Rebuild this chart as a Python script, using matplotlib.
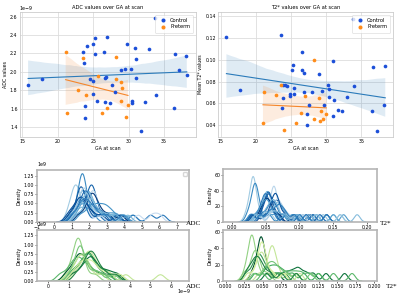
import numpy as np
import matplotlib
matplotlib.use("Agg")
import matplotlib.pyplot as plt
from matplotlib.ticker import FuncFormatter
import seaborn as sns

# ---------------- scatter data ----------------
control_ga_adc = [15.8, 17.8, 23.6, 23.7, 24.1, 23.9, 23.9, 25.2, 25.0, 25.3, 27.0, 26.5, 24.5, 25.0, 24.9,
                  25.5, 26.6, 27.4, 26.8, 26.7, 27.6, 28.1, 28.9, 29.5, 29.8, 30.3, 30.4, 30.5, 30.9, 31.0,
                  31.0, 31.7, 32.3, 32.9, 33.9, 33.7, 36.4, 36.5, 37.1, 38.1, 38.2]
control_adc = [1.855, 1.92, 2.218, 2.10, 2.285, 1.63, 1.50, 2.365, 2.307, 2.19, 2.38, 2.22, 1.924, 1.895, 1.76,
               1.684, 1.67, 1.66, 1.945, 1.93, 1.855, 1.78, 2.015, 2.03, 2.30, 2.03, 1.687, 1.66, 2.255, 2.135,
               1.927, 1.35, 1.67, 2.25, 1.75, 2.585, 1.61, 2.19, 2.02, 2.167, 1.967]
preterm_ga_adc = [21.1, 21.3, 22.8, 23.6, 24.0, 25.7, 26.2, 26.9, 28.2, 28.2, 28.9, 28.9, 29.1, 29.6, 29.9]
preterm_adc = [2.21, 1.555, 1.80, 2.145, 1.745, 1.95, 1.555, 1.61, 1.92, 2.16, 1.89, 1.68, 1.82, 1.51, 1.64]

control_ga_t2 = [15.8, 17.8, 23.6, 23.9, 24.2, 24.4, 23.8, 23.7, 24.9, 24.8, 25.1, 25.3, 25.4, 25.4, 26.6,
                 26.6, 26.8, 26.9, 27.2, 27.3, 27.6, 28.0, 28.9, 29.4, 29.7, 30.3, 30.4, 30.4, 30.9, 31.1,
                 31.0, 31.7, 32.3, 32.9, 33.8, 33.9, 36.5, 36.6, 37.2, 38.2, 38.4]
control_t2 = [0.121, 0.0718, 0.1233, 0.077, 0.0764, 0.0758, 0.0648, 0.056, 0.0688, 0.0664, 0.091, 0.095,
              0.074, 0.069, 0.107, 0.0903, 0.0876, 0.0703, 0.050, 0.0403, 0.058, 0.0706, 0.0867, 0.0709,
              0.0586, 0.0773, 0.0733, 0.0658, 0.0985, 0.0633, 0.0479, 0.0542, 0.053, 0.0658, 0.1379, 0.0755,
              0.053, 0.0931, 0.0343, 0.0586, 0.0946]
preterm_ga_t2 = [21.0, 21.2, 22.8, 23.6, 24.0, 25.7, 26.4, 27.0, 28.3, 28.3, 29.0, 29.1, 29.2, 29.6, 30.0]
preterm_t2 = [0.0421, 0.0706, 0.0675, 0.0764, 0.0355, 0.0421, 0.051, 0.0667, 0.0994, 0.0454, 0.0652,
              0.044, 0.0528, 0.0454, 0.0503]

group_labels = ["Control", "Preterm"]

# ---------------- per-subject value samples (ADC in 1e-9 units) ----------------
adc_control_samples = [
    [0.8, 1.0, 1.1, 1.2, 1.25, 1.3, 1.4, 1.6, 1.9, 2.5],
    [1.1, 1.4, 1.5, 1.55, 1.6, 1.62, 1.65, 1.7, 1.8, 2.2],
    [1.1, 1.4, 1.5, 1.6, 1.7, 1.8, 1.9, 2.2, 2.8, 3.3],
    [1.2, 1.7, 1.9, 2.0, 2.1, 2.15, 2.2, 2.3, 2.5, 3.0],
    [1.3, 1.7, 1.9, 2.1, 2.2, 2.25, 2.3, 2.5, 2.9, 3.5],
    [0.9, 1.2, 1.4, 1.5, 1.6, 1.8, 2.0, 2.4, 3.0, 3.8],
    [1.0, 1.3, 1.5, 1.7, 1.9, 2.1, 2.4, 2.8, 3.2, 3.6],
    [1.2, 1.5, 1.7, 2.0, 2.2, 2.6, 3.0, 3.4, 3.9, 4.5],
    [1.1, 1.4, 1.5, 1.6, 1.8, 2.5, 3.5, 4.5, 5.5, 6.2],
    [1.2, 1.5, 1.6, 1.7, 1.9, 2.6, 3.8, 4.8, 5.6, 6.0],
    [0.9, 1.3, 1.4, 1.5, 1.55, 1.6, 1.7, 2.0, 2.6, 3.1],
    [1.3, 1.6, 1.75, 1.85, 1.95, 2.05, 2.15, 2.4, 2.8, 3.4],
    [1.4, 1.8, 2.0, 2.1, 2.2, 2.3, 2.45, 2.7, 3.1, 3.8],
    [1.0, 1.35, 1.5, 1.6, 1.7, 1.75, 1.85, 2.0, 2.3, 2.9],
    [1.5, 1.9, 2.1, 2.3, 2.5, 2.7, 2.9, 3.1, 3.4, 4.0],
    [0.8, 1.1, 1.3, 1.45, 1.55, 1.7, 1.9, 2.2, 2.7, 3.6],
    [1.2, 1.5, 1.65, 1.8, 1.9, 2.0, 2.1, 2.3, 2.6, 3.2],
    [1.1, 1.45, 1.6, 1.7, 1.8, 1.9, 2.0, 2.2, 2.5, 2.8],
    [1.3, 1.7, 1.9, 2.0, 2.15, 2.3, 2.6, 3.0, 3.5, 4.2],
    [1.0, 1.4, 1.55, 1.7, 1.85, 2.0, 2.2, 2.5, 3.0, 3.9],
]
adc_preterm_samples = [
    [0.9, 1.2, 1.35, 1.42, 1.46, 1.5, 1.53, 1.6, 1.8, 2.3],
    [0.9, 1.2, 1.4, 1.5, 1.6, 1.7, 1.9, 2.1, 2.5, 3.0],
    [1.2, 1.5, 1.7, 1.85, 1.95, 2.05, 2.15, 2.35, 2.7, 3.3],
    [1.0, 1.3, 1.5, 1.6, 1.7, 1.8, 2.0, 2.3, 2.8, 3.5],
    [1.3, 1.6, 1.8, 1.9, 2.0, 2.1, 2.2, 2.4, 2.7, 3.0],
    [1.1, 1.4, 1.6, 1.8, 1.9, 2.0, 2.1, 2.3, 2.6, 2.9],
    [1.2, 1.6, 1.8, 2.0, 2.1, 2.2, 2.4, 2.7, 3.0, 3.4],
    [0.6, 1.0, 1.2, 1.35, 1.5, 1.6, 1.8, 2.0, 2.3, 2.7],
    [1.0, 1.35, 1.5, 1.6, 1.7, 1.85, 2.1, 2.6, 3.8, 5.5],
    [1.2, 1.5, 1.65, 1.8, 2.0, 2.15, 2.3, 2.6, 3.0, 3.5],
    [1.1, 1.4, 1.5, 1.55, 1.6, 1.65, 1.8, 2.2, 2.5, 3.2],
    [1.4, 1.7, 1.9, 2.0, 2.1, 2.2, 2.3, 2.5, 2.8, 3.3],
]
t2_control_samples = [
    [0.022, 0.027, 0.030, 0.031, 0.032, 0.0325, 0.033, 0.035, 0.042, 0.058],
    [0.024, 0.030, 0.032, 0.034, 0.035, 0.036, 0.038, 0.042, 0.055, 0.075],
    [0.030, 0.042, 0.047, 0.050, 0.052, 0.054, 0.056, 0.060, 0.075, 0.100],
    [0.032, 0.044, 0.049, 0.052, 0.054, 0.056, 0.058, 0.063, 0.080, 0.110],
    [0.040, 0.052, 0.058, 0.061, 0.062, 0.063, 0.064, 0.068, 0.080, 0.100],
    [0.035, 0.050, 0.058, 0.063, 0.066, 0.069, 0.073, 0.080, 0.095, 0.120],
    [0.030, 0.045, 0.055, 0.065, 0.075, 0.090, 0.105, 0.120, 0.140, 0.165],
    [0.030, 0.045, 0.052, 0.060, 0.068, 0.080, 0.100, 0.125, 0.150, 0.185],
    [0.028, 0.040, 0.045, 0.048, 0.050, 0.052, 0.055, 0.062, 0.080, 0.120],
    [0.040, 0.055, 0.061, 0.065, 0.068, 0.071, 0.075, 0.085, 0.105, 0.130],
    [0.033, 0.045, 0.050, 0.053, 0.055, 0.057, 0.060, 0.068, 0.095, 0.140],
    [0.038, 0.052, 0.060, 0.065, 0.068, 0.072, 0.078, 0.090, 0.115, 0.150],
    [0.030, 0.042, 0.047, 0.050, 0.053, 0.056, 0.060, 0.070, 0.092, 0.115],
    [0.040, 0.058, 0.064, 0.068, 0.071, 0.075, 0.082, 0.095, 0.125, 0.160],
    [0.028, 0.038, 0.044, 0.048, 0.051, 0.054, 0.058, 0.066, 0.080, 0.095],
    [0.045, 0.056, 0.060, 0.063, 0.065, 0.067, 0.070, 0.078, 0.095, 0.115],
    [0.035, 0.048, 0.056, 0.063, 0.070, 0.080, 0.095, 0.115, 0.135, 0.160],
    [0.030, 0.044, 0.052, 0.057, 0.060, 0.063, 0.068, 0.078, 0.100, 0.130],
    [0.036, 0.048, 0.054, 0.058, 0.061, 0.064, 0.068, 0.078, 0.098, 0.125],
    [0.042, 0.054, 0.060, 0.066, 0.070, 0.074, 0.080, 0.092, 0.110, 0.140],
]
t2_preterm_samples = [
    [0.026, 0.031, 0.033, 0.035, 0.0355, 0.036, 0.037, 0.040, 0.046, 0.058],
    [0.036, 0.042, 0.045, 0.047, 0.048, 0.0485, 0.049, 0.052, 0.058, 0.070],
    [0.028, 0.036, 0.040, 0.043, 0.046, 0.048, 0.052, 0.058, 0.068, 0.080],
    [0.025, 0.033, 0.037, 0.039, 0.041, 0.043, 0.047, 0.056, 0.070, 0.085],
    [0.045, 0.055, 0.059, 0.061, 0.063, 0.064, 0.066, 0.071, 0.082, 0.095],
    [0.040, 0.052, 0.058, 0.063, 0.068, 0.073, 0.080, 0.090, 0.105, 0.125],
    [0.055, 0.070, 0.080, 0.088, 0.095, 0.100, 0.108, 0.118, 0.135, 0.160],
    [0.050, 0.068, 0.078, 0.086, 0.094, 0.102, 0.112, 0.125, 0.145, 0.170],
    [0.030, 0.040, 0.044, 0.047, 0.049, 0.051, 0.055, 0.062, 0.078, 0.100],
    [0.035, 0.043, 0.046, 0.048, 0.049, 0.050, 0.052, 0.056, 0.064, 0.078],
    [0.038, 0.050, 0.056, 0.060, 0.064, 0.068, 0.074, 0.082, 0.095, 0.115],
    [0.028, 0.034, 0.038, 0.041, 0.044, 0.047, 0.052, 0.060, 0.075, 0.095],
]

# ---------------- styling ----------------
plt.rcParams['font.family'] = ['DejaVu Sans']
FS = 3.4
dot_blue = '#1c4fd8'
dot_orange = '#ff8c1a'
line_blue = '#2b7bba'
line_orange = '#f5862b'
sci = FuncFormatter(lambda v, p: f"{v * 1e9:.1f}")
sci0 = FuncFormatter(lambda v, p: f"{v * 1e9:.0f}")

fig = plt.figure(figsize=(4.0, 2.95), dpi=100)
ax1 = fig.add_axes([0.049, 0.5356, 0.441, 0.4237])
ax2 = fig.add_axes([0.545, 0.5356, 0.4375, 0.4237])


def scatter_panel(ax, cx, cy, px, py, scale, title, ylabel, ylim, offset_label=None):
    cx = np.array(cx); cy = np.array(cy) * scale
    px = np.array(px); py = np.array(py) * scale
    sns.regplot(x=cx, y=cy, ax=ax, scatter=False, color=line_blue, seed=1,
                line_kws=dict(lw=0.8))
    sns.regplot(x=px, y=py, ax=ax, scatter=False, color=line_orange, seed=1,
                line_kws=dict(lw=0.8))
    ax.scatter(cx, cy, s=7, color=dot_blue, label=group_labels[0], zorder=3, linewidths=0)
    ax.scatter(px, py, s=7, color=dot_orange, label=group_labels[1], zorder=3, linewidths=0)
    ax.set_xlim(14.6, 39.5)
    ax.set_ylim(*ylim)
    ax.set_xticks([15, 20, 25, 30, 35])
    ax.grid(True, color='#dddddd', lw=0.6)
    ax.set_axisbelow(True)
    for s in ax.spines.values():
        s.set_color('#cccccc'); s.set_linewidth(0.6)
    ax.tick_params(labelsize=FS, length=0, pad=1.5)
    if offset_label:
        ax.yaxis.set_major_formatter(sci)
        ax.text(0.0, 1.005, offset_label, transform=ax.transAxes, fontsize=FS,
                ha='left', va='bottom')
    ax.set_title(title, fontsize=FS + 0.3, pad=2)
    ax.set_xlabel("GA at scan", fontsize=FS, labelpad=1.5)
    ax.set_ylabel(ylabel, fontsize=FS, labelpad=1.5)
    leg = ax.legend(loc='upper right', fontsize=FS + 0.3, markerscale=1.1, handletextpad=0.4,
                    borderpad=0.6, labelspacing=0.35, frameon=True)
    leg.get_frame().set_linewidth(0.4)


scatter_panel(ax1, control_ga_adc, control_adc, preterm_ga_adc, preterm_adc, 1e-9,
              "ADC values over GA at scan", "ADC values", (1.29e-9, 2.65e-9), "1e\u22129")
ax1.set_yticks(np.arange(1.4, 2.61, 0.2) * 1e-9)
scatter_panel(ax2, control_ga_t2, control_t2, preterm_ga_t2, preterm_t2, 1.0,
              "T2* values over GA at scan", "Mean T2* values", (0.029, 0.144))

# ---------------- KDE panels ----------------
ax3 = fig.add_axes([0.0925, 0.2475, 0.38, 0.1763])
ax4 = fig.add_axes([0.0925, 0.046, 0.38, 0.174])
ax5 = fig.add_axes([0.5575, 0.2475, 0.385, 0.18])
ax6 = fig.add_axes([0.5575, 0.047, 0.385, 0.173])


def fixed_bw(h):
    return lambda kde: h / np.std(np.asarray(kde.dataset).ravel(), ddof=1)


def kde_panel(ax, samples, scale, cmap, xlim, ylim, label, h, lab_xy):
    cols = plt.get_cmap(cmap)(np.linspace(0.25, 0.95, len(samples)))
    order = [3, 11, 7, 15, 1, 18, 9, 5, 13, 0, 16, 8, 19, 2, 10, 17, 4, 14, 6, 12]
    for i, s in enumerate(samples):
        c = cols[order[i % len(order)] % len(samples)]
        sns.kdeplot(x=np.array(s) * scale, ax=ax, color=c, lw=0.8, bw_method=fixed_bw(h))
    ax.set_xlim(*xlim)
    ax.set_ylim(*ylim)
    for sp in ax.spines.values():
        sp.set_color('#b5b5b5'); sp.set_linewidth(1.2)
    ax.tick_params(labelsize=FS, length=1.2, width=0.4, pad=0.8)
    ax.xaxis.get_offset_text().set_fontsize(FS)
    ax.yaxis.get_offset_text().set_fontsize(FS)
    ax.set_ylabel("Density", fontsize=FS, labelpad=1.5)
    ax.set_xlabel("")
    ax.text(lab_xy[0], lab_xy[1], label, transform=ax.transAxes, fontsize=5.2,
            family='Liberation Serif', ha='left', va='center')


kde_panel(ax3, adc_control_samples, 1e-9, 'Blues', (-1.0e-9, 7.7e-9), (0, 1.40e9), "ADC", 0.22e-9,
          (0.98, -0.03))
ax3.set_xticks(np.arange(-1, 8) * 1e-9)
ax3.legend(handles=[], loc='upper right', fontsize=FS, frameon=True)
kde_panel(ax4, adc_preterm_samples, 1e-9, 'YlGn', (-0.55e-9, 6.9e-9), (0, 1.39e9), "ADC", 0.22e-9,
          (0.98, -0.10))
ax4.set_xticks(np.arange(0, 7) * 1e-9)
ax4.xaxis.set_major_formatter(sci0)
ax4.text(0.968, -0.205, "1e\u22129", transform=ax4.transAxes, fontsize=FS, ha='center', va='center')
kde_panel(ax5, t2_control_samples, 1.0, 'Blues', (-0.0128, 0.2143), (0, 68), "T2*", 0.0043,
          (1.02, -0.03))
ax5.set_xticks([0.0, 0.05, 0.10, 0.15, 0.20])
kde_panel(ax6, t2_preterm_samples, 1.0, 'YlGn', (-0.0036, 0.2036), (0, 62.4), "T2*", 0.0043,
          (1.06, -0.11))
ax6.set_xticks(np.arange(0, 0.201, 0.025))
for a in (ax3, ax4):
    a.set_yticks(np.array([0, 0.25, 0.5, 0.75, 1.0, 1.25]) * 1e9)
for a in (ax5, ax6):
    a.set_yticks([0, 20, 40, 60])

fig.savefig("out.png", dpi=100)
